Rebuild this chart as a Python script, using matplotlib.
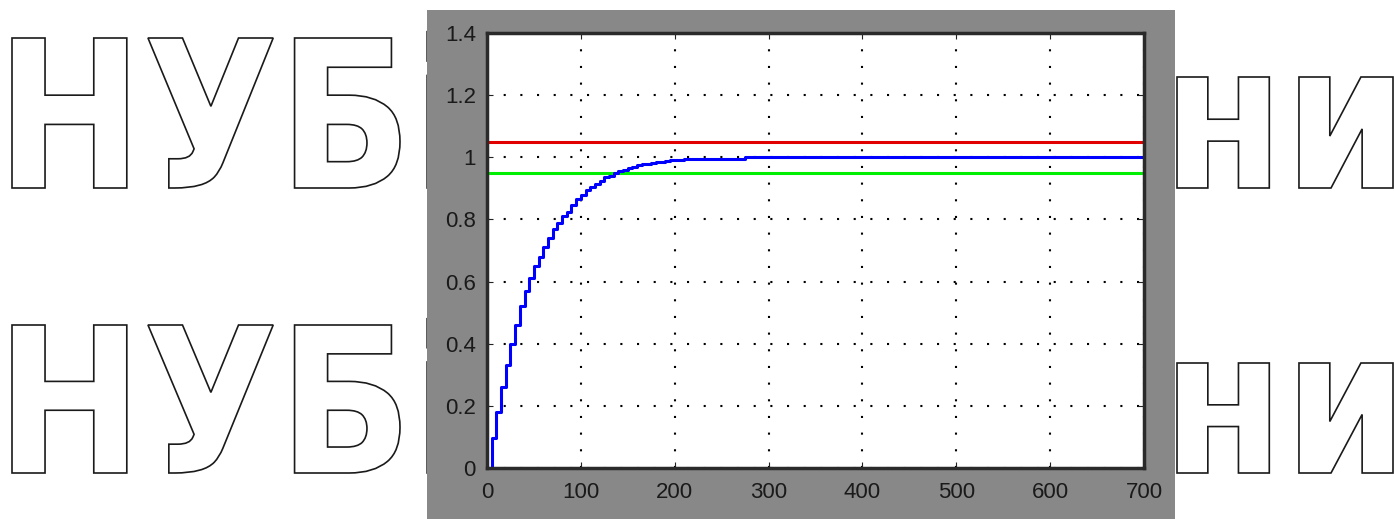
import matplotlib
matplotlib.use('Agg')
import matplotlib.pyplot as plt
from matplotlib.patches import Rectangle, PathPatch
from matplotlib.textpath import TextPath
from matplotlib.font_manager import FontProperties
from matplotlib.transforms import Affine2D

# step response (sample every 5 units)
t_vals = [0, 5, 10, 15, 20, 25, 30, 35, 40, 45, 50, 55, 60, 65, 70, 75, 80, 85, 90, 95,
          100, 105, 110, 115, 120, 125, 130, 135, 140, 145, 150, 155, 160, 165, 170, 175,
          180, 185, 190, 195, 200, 205, 210, 215, 275, 700]
y_vals = [0.0, 0.097, 0.18, 0.26, 0.33, 0.40, 0.46, 0.52, 0.57, 0.61, 0.65, 0.68, 0.71,
          0.74, 0.77, 0.79, 0.81, 0.825, 0.845, 0.865, 0.88, 0.895, 0.905, 0.915, 0.925,
          0.935, 0.94, 0.95, 0.955, 0.96, 0.965, 0.97, 0.975, 0.978, 0.98, 0.982, 0.984,
          0.986, 0.988, 0.99, 0.991, 0.992, 0.993, 0.995, 1.0, 1.0]
upper_band = 1.05
lower_band = 0.95

x_ticks = [0, 100, 200, 300, 400, 500, 600, 700]
y_ticks = [0, 0.2, 0.4, 0.6, 0.8, 1.0, 1.2, 1.4]
y_tick_labels = ['0', '0.2', '0.4', '0.6', '0.8', '1', '1.2', '1.4']

W, H = 1394, 519
fig = plt.figure(figsize=(W / 100, H / 100), dpi=100)
fig.patch.set_facecolor('white')

font = FontProperties(family='DejaVu Sans', weight='bold')


# outlined watermark text, scaled so that `ref` fills the given pixel box
def outline_text(s, ref, x0, x1, ytop, ybot):
    rp = TextPath((0, 0), ref, size=100, prop=font)
    ext = rp.get_extents()
    sx = (x1 - x0) / ext.width
    sy = (ybot - ytop) / ext.height
    p = TextPath((0, 0), s, size=100, prop=font)
    tr = Affine2D().translate(-ext.x0, -ext.y0).scale(sx, sy) \
        .translate(x0, H - ybot).scale(1 / W, 1 / H)
    patch = PathPatch(tr.transform_path(p), facecolor='white', edgecolor='#1a1a1a',
                      lw=1.2, transform=fig.transFigure, zorder=1)
    fig.patches.append(patch)


for top, bot, xtop in [(38, 188, 77), (325, 473, 363)]:
    outline_text('НУБіП', 'НУБ', 12, 400, top, bot)
    outline_text('ни', 'ни', 1177, 1393, xtop, bot)

# gray figure panel
panel = Rectangle((427 / W, 0), (1175 - 427) / W, 1 - 10 / H, transform=fig.transFigure,
                  facecolor='#888888', edgecolor='none', zorder=2)
fig.patches.append(panel)

ax = fig.add_axes([487 / W, 1 - 468 / H, (1144 - 487) / W, (468 - 33) / H])
ax.set_zorder(5)
ax.set_facecolor('white')

ax.axhline(upper_band, color='#e00000', lw=2.2)
ax.axhline(lower_band, color='#00ee00', lw=2.2)
ax.plot(t_vals, y_vals, color='#0000ff', lw=2.2, drawstyle='steps-post')

ax.set_xlim(0, 700)
ax.set_ylim(0, 1.4)
ax.set_xticks(x_ticks)
ax.set_xticklabels([str(v) for v in x_ticks])
ax.set_yticks(y_ticks)
ax.set_yticklabels(y_tick_labels)
ax.grid(True, color='black', linestyle=(0, (1, 7)), lw=1.5)
ax.tick_params(direction='in', length=4, top=True, right=True, colors='#222222',
               labelsize=16, labelcolor='#1a1a1a')
ax.tick_params(axis='x', pad=10)
ax.tick_params(axis='y', pad=8)
for lab in ax.get_xticklabels() + ax.get_yticklabels():
    lab.set_fontfamily('Liberation Sans')
for sp in ax.spines.values():
    sp.set_color('#2a2a2a')
    sp.set_linewidth(2.5)

fig.savefig('out.png', dpi=100, facecolor='white')
